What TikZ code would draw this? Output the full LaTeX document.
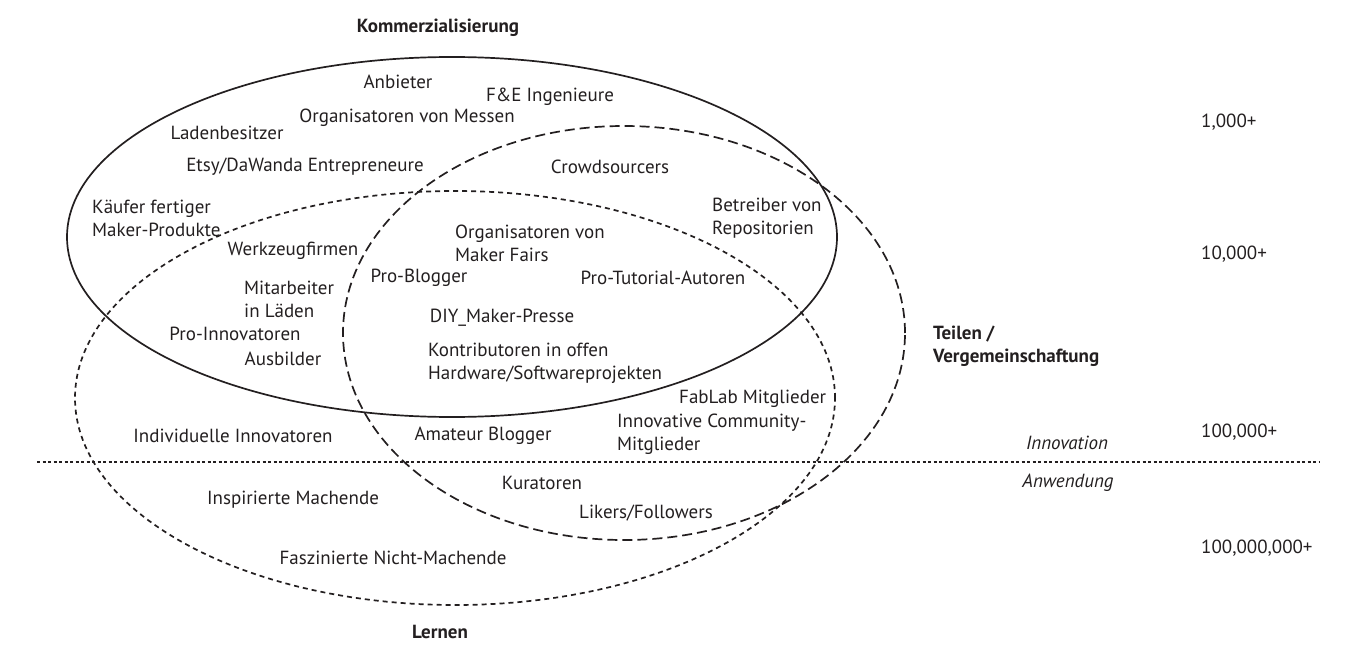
\documentclass[tikz,border=0pt]{standalone}
\usepackage{fontspec}
\setmainfont{PT Sans}
\definecolor{ink}{HTML}{231F20}
\begin{document}
\begin{tikzpicture}[x=1pt,y=-1pt,
  lbl/.style={inner sep=0pt, text=ink, font=\fontsize{19}{23}\selectfont},
  lbll/.style={lbl, align=left, anchor=west},
  head/.style={lbl, font=\fontsize{19}{23}\selectfont\bfseries},
  axis/.style={lbl, font=\fontsize{19}{23}\selectfont\itshape},
  count/.style={lbl, anchor=west},
  solidring/.style={draw=ink, line width=1.7pt},
  dashring/.style={draw=ink, line width=1.7pt, dash pattern=on 10pt off 5pt},
  dotring/.style={draw=ink, line width=1.7pt, dash pattern=on 5pt off 4pt},
  sepline/.style={draw=ink, line width=1.2pt, dash pattern=on 3pt off 2.5pt}]
\useasboundingbox (0,0) rectangle (1348,671);
% rings
\draw[solidring] (452,237) ellipse [x radius=385pt, y radius=180pt];
\draw[dashring] (624,333) ellipse [x radius=281pt, y radius=207pt];
\draw[dotring] (455,398) ellipse [x radius=380pt, y radius=207pt];
% separator
\coordinate (sepL) at (37,462);
\coordinate (sepR) at (1320,462);
\draw[sepline] (sepL) -- (sepR);
% headings
\node[head] (kom) at (438,28) {Kommerzialisierung};
\node[head] (ler) at (440,632) {Lernen};
\node[head, align=left, anchor=west] (tei) at (933,346) {Teilen /\\Vergemeinschaftung};
\node[axis] (inn) at (1067,443) {Innovation};
\node[axis] (anw) at (1068,483) {Anwendung};
% counts
\node[count] (c1) at (1201,122) {1,000+};
\node[count] (c2) at (1201,254) {10,000+};
\node[count] (c3) at (1201,432) {100,000+};
\node[count] (c4) at (1201,548) {100,000,000+};
% labels
\node[lbl] (anb) at (398,82) {Anbieter};
\node[lbl] (fue) at (550,97) {F\&E Ingenieure};
\node[lbl] (orgm) at (407,118) {Organisatoren von Messen};
\node[lbl] (lad) at (227,133) {Ladenbesitzer};
\node[lbl] (ets) at (305,167) {Etsy/DaWanda Entrepreneure};
\node[lbl] (cro) at (610,167) {Crowdsourcers};
\node[lbll] (kae) at (92,218) {K\"aufer fertiger\\Maker-Produkte};
\node[lbll] (bet) at (712,218) {Betreiber von\\Repositorien};
\node[lbl] (wer) at (293,251) {Werkzeugfirmen};
\node[lbll] (orgf) at (455,243) {Organisatoren von\\Maker Fairs};
\node[lbl] (pbl) at (419,278) {Pro-Blogger};
\node[lbl] (ptu) at (663,278) {Pro-Tutorial-Autoren};
\node[lbll] (mit) at (244,299) {Mitarbeiter\\in L\"aden};
\node[lbl] (diy) at (502,318) {DIY\_Maker-Presse};
\node[lbl] (pin) at (235,334) {Pro-Innovatoren};
\node[lbl] (aus) at (283,359) {Ausbilder};
\node[lbll] (kon) at (428,363) {Kontributoren in offen\\Hardware/Softwareprojekten};
\node[lbl, anchor=west] (fab) at (679,399) {FabLab Mitglieder};
\node[lbll] (icm) at (617,434) {Innovative Community-\\Mitglieder};
\node[lbl] (ind) at (233,436) {Individuelle Innovatoren};
\node[lbl] (ama) at (483,436) {Amateur Blogger};
\node[lbl] (kur) at (542,483) {Kuratoren};
\node[lbl] (ins) at (293,500) {Inspirierte Machende};
\node[lbl] (lik) at (646,513) {Likers/Followers};
\node[lbl] (fas) at (393,558) {Faszinierte Nicht-Machende};
\end{tikzpicture}
\end{document}
